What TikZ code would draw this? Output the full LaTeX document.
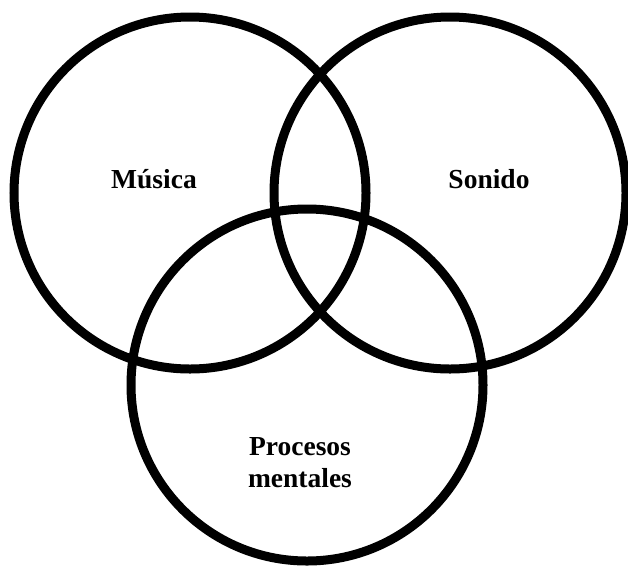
\documentclass[tikz,border=0pt]{standalone}
\usepackage{fontspec}
\setmainfont{Liberation Serif}
\begin{document}
\begin{tikzpicture}[x=1pt,y=-1pt,
  setcircle/.style={draw=black,line width=9pt},
  setlabel/.style={font=\bfseries\fontsize{27.5}{32}\selectfont,inner sep=0pt,align=center}]
\useasboundingbox (0,0) rectangle (628,566);
\node[setcircle,circle,minimum size=352pt,inner sep=0pt] (musica) at (190,193) {};
\node[setcircle,circle,minimum size=352pt,inner sep=0pt] (sonido) at (450,193) {};
\node[setcircle,circle,minimum size=352pt,inner sep=0pt] (procesos) at (307,385) {};
\node[setlabel,anchor=base] (lmus) at (154,188) {Música};
\node[setlabel,anchor=base] (lson) at (489,188) {Sonido};
\node[setlabel] (lpro) at (300,463) {Procesos\\mentales};
\end{tikzpicture}
\end{document}
